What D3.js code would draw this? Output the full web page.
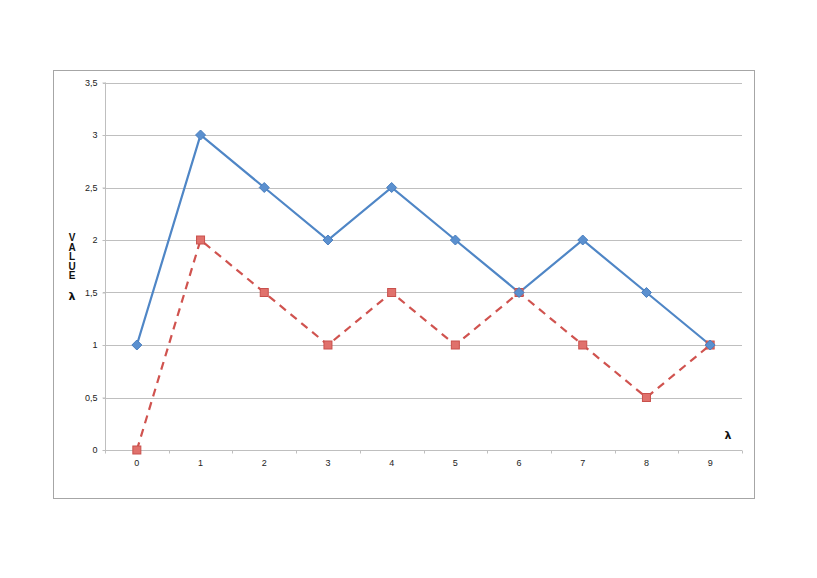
<!DOCTYPE html>
<html><head><meta charset="utf-8">
<script src="https://cdn.jsdelivr.net/npm/d3@7"></script>
<style>body{margin:0;background:#fff}svg{display:block}</style>
</head><body>
<script>
const categories = ["0","1","2","3","4","5","6","7","8","9"];
const seriesBlue = [1,3,2.5,2,2.5,2,1.5,2,1.5,1];
const seriesRed = [0,2,1.5,1,1.5,1,1.5,1,0.5,1];
const yTicks = [0,0.5,1,1.5,2,2.5,3,3.5];
const yTickLabels = ["0","0,5","1","1,5","2","2,5","3","3,5"];

const W=817,H=578;
const svg=d3.select("body").append("svg").attr("width",W).attr("height",H);
svg.append("rect").attr("x",53.5).attr("y",70.5).attr("width",701).attr("height",428)
  .attr("fill","#fff").attr("stroke","#a6a6a6").attr("stroke-width",1);

const x=d3.scaleBand().domain(categories).range([105,742]);
const y=d3.scaleLinear().domain([0,3.5]).range([450,82.5]);

// gridlines
svg.append("g").selectAll("line").data(yTicks.filter(d=>d>0)).join("line")
  .attr("x1",103).attr("x2",742).attr("y1",d=>Math.round(y(d))+0.5).attr("y2",d=>Math.round(y(d))+0.5)
  .attr("stroke","#bfbfbf").attr("stroke-width",1);

// y axis
const yAxis=d3.axisLeft(y).tickValues(yTicks).tickSize(3).tickFormat((d,i)=>yTickLabels[i]);
const gy=svg.append("g").attr("transform","translate(105.5,0)").call(yAxis);
gy.select(".domain").attr("stroke","#bfbfbf").attr("d","M0,82.5V450");
gy.selectAll(".tick line").attr("stroke","#bfbfbf");
gy.selectAll(".tick text").attr("font-family","Liberation Sans, Arial, sans-serif").attr("font-size",9).attr("fill","#222").attr("x",-8);

// x axis
const gx=svg.append("g").attr("transform","translate(0,450.5)");
gx.append("line").attr("x1",105).attr("x2",742).attr("y1",0).attr("y2",0).attr("stroke","#bfbfbf");
const bounds=categories.map(c=>x(c)).concat([x.range()[1]]);
gx.selectAll("line.tk").data(bounds).join("line").attr("class","tk")
  .attr("x1",d=>Math.round(d)+0.5).attr("x2",d=>Math.round(d)+0.5).attr("y1",0).attr("y2",3).attr("stroke","#bfbfbf");
gx.selectAll("text").data(categories).join("text")
  .attr("x",d=>x(d)+x.bandwidth()/2).attr("y",15).attr("text-anchor","middle")
  .attr("font-family","Liberation Sans, Arial, sans-serif").attr("font-size",9).attr("fill","#222").text(d=>d);

const cx=d=>x(d)+x.bandwidth()/2;
const line=d3.line().x((d,i)=>cx(categories[i])).y(d=>y(d));

svg.append("path").datum(seriesRed).attr("d",line).attr("fill","none")
  .attr("stroke","#d0534f").attr("stroke-width",2.2).attr("stroke-dasharray","8,6");
svg.append("path").datum(seriesBlue).attr("d",line).attr("fill","none")
  .attr("stroke","#4f86c6").attr("stroke-width",2.2);

// markers
svg.append("g").selectAll("rect").data(seriesRed).join("rect")
  .attr("x",(d,i)=>cx(categories[i])-4).attr("y",d=>y(d)-4).attr("width",8).attr("height",8)
  .attr("fill","#e0716c").attr("stroke","#c9504c").attr("stroke-width",1);
svg.append("g").selectAll("path").data(seriesBlue).join("path")
  .attr("transform",(d,i)=>`translate(${cx(categories[i])},${y(d)})`)
  .attr("d","M0,-5L5,0L0,5L-5,0Z").attr("fill","#5b90cf").attr("stroke","#4a7fbf").attr("stroke-width",1);

// axis titles
const vt=svg.append("text").attr("font-family","Liberation Sans, Arial, sans-serif").attr("font-size",10)
  .attr("font-weight","bold").attr("fill","#111").attr("text-anchor","middle");
["V","A","L","U","E"].forEach((ch,i)=>vt.append("tspan").attr("x",72).attr("y",241+i*9.5).text(ch));
svg.append("text").attr("x",72).attr("y",300).attr("text-anchor","middle")
  .attr("font-family","DejaVu Sans, sans-serif").attr("font-size",11).attr("font-weight","bold").attr("fill","#111").text("λ");
svg.append("text").attr("x",728).attr("y",439).attr("text-anchor","middle")
  .attr("font-family","DejaVu Sans, sans-serif").attr("font-size",11).attr("font-weight","bold").attr("fill","#111").text("λ");
</script>
</body></html>
